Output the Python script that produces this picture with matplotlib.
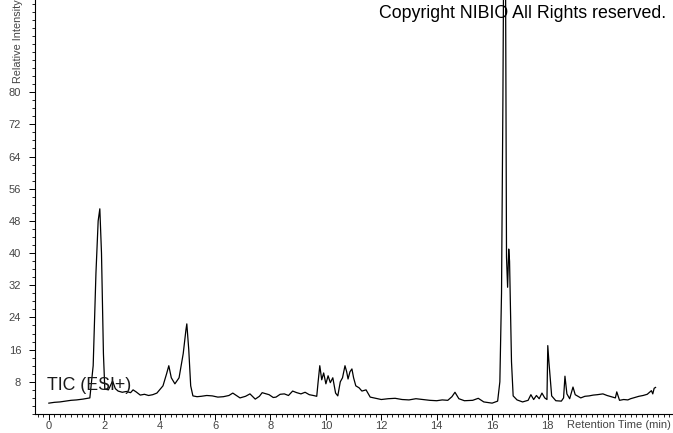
import matplotlib
matplotlib.use('Agg')
import matplotlib.pyplot as plt
from matplotlib.ticker import MultipleLocator, FixedLocator

# TIC (ESI+) chromatogram
rt = [0.0, 0.2, 0.4, 0.6, 0.8, 1.0, 1.23, 1.48, 1.6, 1.7, 1.78, 1.84, 1.9, 1.97, 2.02, 2.15, 2.3, 2.4, 2.5,
      2.65, 2.8, 2.95, 3.04, 3.15, 3.3, 3.45, 3.6, 3.75, 3.9, 4.12, 4.25, 4.33, 4.42, 4.55, 4.7, 4.85,
      4.95, 4.98, 5.05, 5.12, 5.2, 5.35, 5.5, 5.7, 5.9, 6.1, 6.3, 6.5, 6.64, 6.9, 7.1, 7.26, 7.45,
      7.6, 7.7, 7.95, 8.1, 8.2, 8.35, 8.5, 8.65, 8.8, 8.95, 9.1, 9.25, 9.4, 9.55, 9.67, 9.72,
      9.78, 9.85, 9.92, 10.0, 10.08, 10.16, 10.25, 10.35, 10.43, 10.52, 10.6, 10.69, 10.75,
      10.8, 10.87, 10.94, 11.0, 11.08, 11.2, 11.3, 11.45, 11.6, 11.8, 12.0, 12.25, 12.5, 12.75,
      13.0, 13.25, 13.5, 13.75, 14.0, 14.2, 14.4, 14.55, 14.66, 14.8, 15.0, 15.3, 15.5, 15.7,
      16.0, 16.2, 16.28, 16.34, 16.39, 16.43, 16.48, 16.52, 16.56, 16.6, 16.63, 16.7, 16.76,
      16.9, 17.1, 17.3, 17.4, 17.5, 17.6, 17.7, 17.8, 17.9, 17.98, 18.01, 18.05, 18.15, 18.3,
      18.5, 18.58, 18.63, 18.7, 18.8, 18.92, 19.0, 19.2, 19.35, 19.5, 19.65, 19.8, 20.0, 20.15,
      20.3, 20.45, 20.5, 20.6, 20.75, 20.9, 21.0, 21.15, 21.3, 21.45, 21.6, 21.75, 21.8, 21.85, 21.9]
intensity = [2.7, 2.9, 3.0, 3.2, 3.4, 3.5, 3.7, 4.0, 12.0, 35.0, 48.0, 51.0, 40.0, 15.0, 6.2, 6.0, 8.2, 6.3, 5.7,
             5.4, 5.6, 5.3, 6.0, 5.5, 4.7, 4.9, 4.6, 4.8, 5.2, 7.0, 10.0, 12.0, 9.0, 7.5, 9.0, 15.0,
             21.0, 22.4, 16.0, 7.0, 4.5, 4.3, 4.4, 4.6, 4.5, 4.2, 4.3, 4.6, 5.2, 4.0, 4.4, 5.0, 3.7,
             4.4, 5.3, 4.8, 4.1, 4.2, 4.9, 5.0, 4.6, 5.7, 5.3, 5.0, 5.4, 4.8, 4.6, 4.4, 8.0,
             12.0, 8.5, 10.2, 7.5, 9.5, 7.8, 9.0, 5.2, 4.5, 8.0, 9.0, 12.0, 10.5,
             8.7, 10.5, 11.2, 9.0, 7.0, 6.5, 5.7, 6.0, 4.2, 3.9, 3.6, 3.8, 3.9, 3.6,
             3.5, 3.8, 3.6, 3.4, 3.3, 3.5, 3.4, 4.3, 5.4, 3.8, 3.3, 3.4, 3.9, 3.0,
             2.7, 3.2, 8.0, 30.0, 78.0, 130.0, 120.0, 39.0, 31.5, 41.0, 38.0, 13.0, 4.5,
             3.5, 3.0, 3.4, 4.8, 3.6, 4.6, 3.8, 5.2, 4.0, 3.6, 17.0, 13.0, 4.5, 3.3,
             3.2, 4.0, 9.4, 5.0, 3.8, 6.7, 4.8, 4.0, 4.4, 4.5, 4.7, 4.8, 5.0, 4.6,
             4.3, 4.0, 5.5, 3.4, 3.6, 3.5, 3.8, 4.1, 4.4, 4.6, 4.9, 5.8, 5.0, 6.4, 6.6]

yticks = [8, 16, 24, 32, 40, 48, 56, 64, 72, 80]
xticks = [0, 2, 4, 6, 8, 10, 12, 14, 16, 18]

plt.rcParams['font.family'] = ['Liberation Sans', 'DejaVu Sans']

fig = plt.figure(figsize=(6.73, 4.33), dpi=100)
ax = fig.add_axes([35/673, 19/433, 1 - 35/673, 1 - 19/433])

ax.plot(rt, intensity, color='black', linewidth=0.9)

ax.set_xlim(-0.5, 22.53)
ax.set_ylim(0, 102.9)
ax.spines['top'].set_visible(False)
ax.spines['right'].set_visible(False)
for s in ['left', 'bottom']:
    ax.spines[s].set_linewidth(0.8)

ax.xaxis.set_major_locator(FixedLocator(xticks))
ax.xaxis.set_minor_locator(MultipleLocator(0.2))
ax.yaxis.set_major_locator(FixedLocator(yticks))
ax.yaxis.set_minor_locator(MultipleLocator(2))
ax.tick_params(which='major', direction='out', length=4, width=0.7, labelsize=8, labelcolor='#444444')
ax.tick_params(axis='x', which='major', pad=1)
ax.tick_params(axis='y', which='major', pad=6)
ax.tick_params(which='minor', direction='out', length=2.5, width=0.6)

# y label sits at the very top, beside the axis
fig.text(18/673, 1 - 83/433, 'Relative Intensity', rotation=90, ha='center', va='bottom',
         fontsize=7.8, color='#444444')
fig.text(671/673, 1 - 425/433, 'Retention Time (min)', ha='right', va='center',
         fontsize=8, color='#444444')
fig.text(666/673, 1 - 14/433, 'Copyright NIBIO All Rights reserved.', ha='right', va='center',
         fontsize=12.8, color='black')
ax.text(-0.05, 5.0, 'TIC (ESI+)', ha='left', va='bottom', fontsize=12.8, color='#1a1a1a')

fig.savefig('out.png', dpi=100)
